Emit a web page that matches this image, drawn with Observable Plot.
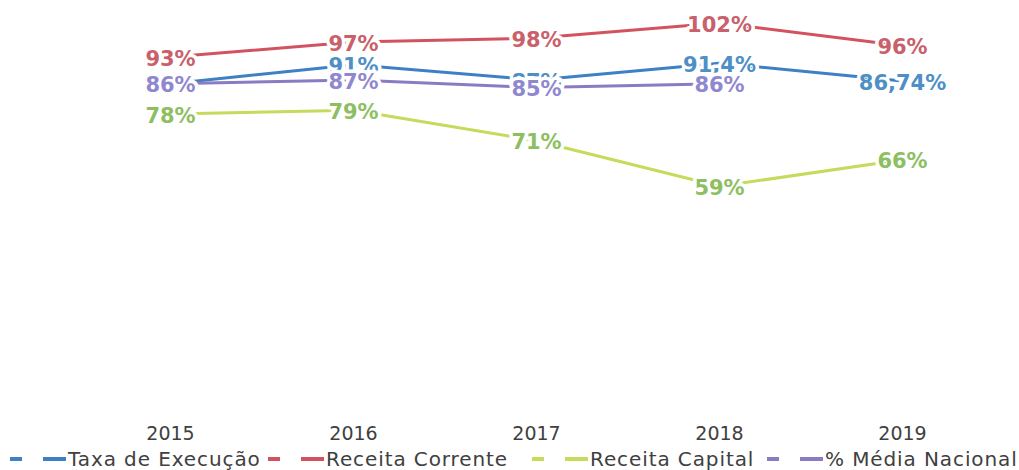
<!DOCTYPE html>
<html>
<head>
<meta charset="utf-8">
<script src="https://cdn.jsdelivr.net/npm/d3@7"></script>
<script src="https://cdn.jsdelivr.net/npm/@observablehq/plot@0.6"></script>
<style>
  html, body { margin: 0; padding: 0; background: #fff; }
  #wrap { position: relative; width: 1019px; height: 470px; overflow: hidden; }
  #legend { position: absolute; left: 0; top: 448px; width: 1019px; height: 22px; }
  .item { position: absolute; top: 0; display: flex; align-items: center; height: 22px;
          font-family: "DejaVu Sans", sans-serif; font-size: 20px; letter-spacing: 0.9px; color: #404040; white-space: nowrap; }
  .item svg { flex-shrink: 0; margin-right: 1px; }
</style>
</head>
<body>
<div id="wrap">
  <div id="chart"></div>
  <div id="legend"></div>
</div>
<script>
const years = ["2015", "2016", "2017", "2018", "2019"];
const seriesNames = ["Taxa de Execução", "Receita Corrente", "Receita Capital", "% Média Nacional"];
const taxaExecucao = [0.86, 0.91, 0.87, 0.914, 0.8674];
const receitaCorrente = [0.93, 0.97, 0.98, 1.02, 0.96];
const receitaCapital = [0.78, 0.79, 0.71, 0.59, 0.66];
const mediaNacional = [0.86, 0.87, 0.85, 0.86, null];

const lineColors = ["#3D80C4", "#D2535F", "#C6DA5C", "#8B7BC2"];
const labelColors = ["#4E8FC6", "#C9606A", "#8DBF62", "#8F88CF"];

const valuesBySeries = [taxaExecucao, receitaCorrente, receitaCapital, mediaNacional];
const fmt = v => String(+(v * 100).toFixed(2)).replace(".", ",") + "%";

const rows = [];
valuesBySeries.forEach((vals, si) => {
  vals.forEach((v, i) => {
    if (v != null) rows.push({series: seriesNames[si], si, year: years[i], value: v, label: fmt(v)});
  });
});

const marks = [];
seriesNames.forEach((s, si) => {
  marks.push(Plot.line(rows.filter(d => d.si === si), {
    x: "year", y: "value", stroke: lineColors[si], strokeWidth: 3, curve: "linear"
  }));
});
seriesNames.forEach((s, si) => {
  marks.push(Plot.text(rows.filter(d => d.si === si), {
    x: "year", y: "value", text: "label", fill: labelColors[si], dy: 2,
    stroke: "white", strokeWidth: 7, paintOrder: "stroke",
    fontSize: 21, fontWeight: 700, fontFamily: "'DejaVu Sans', sans-serif"
  }));
});
marks.push(Plot.axisX({tickSize: 0, tickPadding: 16, fontSize: 19, fill: "#404040",
  fontFamily: "'DejaVu Sans', sans-serif", label: null}));

const chart = Plot.plot({
  width: 1019,
  height: 448,
  marginTop: 30,
  marginBottom: 38,
  marginLeft: 168,
  marginRight: 116,
  style: {fontFamily: "'DejaVu Sans', sans-serif", background: "white", overflow: "visible"},
  x: {type: "point", domain: years, padding: 0},
  y: {domain: [0, 1], axis: null},
  marks
});
document.getElementById("chart").appendChild(chart);

const legend = document.getElementById("legend");
const legendLeft = [10, 268, 532, 767];
seriesNames.forEach((s, si) => {
  const item = document.createElement("div");
  item.className = "item";
  item.style.left = legendLeft[si] + "px";
  item.innerHTML = `<svg width="57" height="10"><line x1="0" x2="12" y1="5" y2="5" stroke="${lineColors[si]}" stroke-width="4"/><line x1="33" x2="56" y1="5" y2="5" stroke="${lineColors[si]}" stroke-width="4"/></svg><span>${s}</span>`;
  legend.appendChild(item);
});
</script>
</body>
</html>
